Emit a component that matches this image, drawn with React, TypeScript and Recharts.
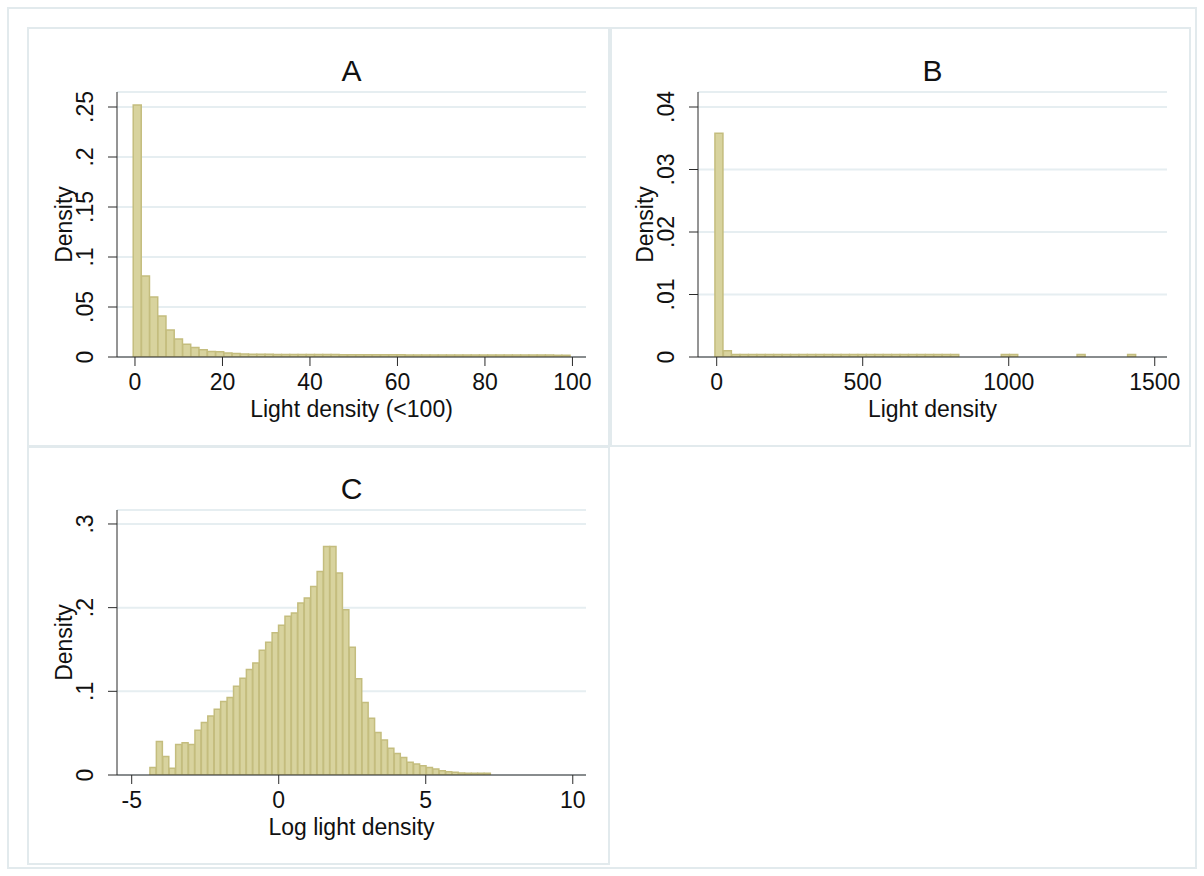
import { ComposedChart, Bar, XAxis, YAxis, CartesianGrid } from 'recharts'

// Panel A - light density (<100): bin start / width and densities
const aStart = -0.4
const aWidth = 1.885
const aDensity = [
  0.252, 0.081, 0.06, 0.041, 0.027, 0.018, 0.0127, 0.0095, 0.0072, 0.0055,
  0.0052, 0.0039, 0.0036, 0.0029, 0.0028, 0.0027, 0.0027, 0.0026, 0.0026, 0.0025,
  0.0025, 0.0025, 0.0024, 0.0024, 0.0024, 0.0023, 0.0023, 0.0023, 0.0023, 0.0022,
  0.0022, 0.0022, 0.0022, 0.0021, 0.0021, 0.0021, 0.0021, 0.0021, 0.002, 0.002,
  0.002, 0.002, 0.002, 0.002, 0.002, 0.0019, 0.0019, 0.0019, 0.0019, 0.0019,
  0.0019, 0.0018, 0.0018,
]
const aXTicks = [0, 20, 40, 60, 80, 100]
const aYTicks = [0, 0.05, 0.1, 0.15, 0.2, 0.25]

// Panel B - light density (all)
const bStart = -6
const bWidth = 28.84
const bDensity = [
  0.0358, 0.001, 0.0004, 0.0004, 0.0004, 0.0004, 0.0004, 0.0004, 0.0004, 0.0004,
  0.0004, 0.0004, 0.0004, 0.0004, 0.0004, 0.0004, 0.0004, 0.0004, 0.0004, 0.0004,
  0.0004, 0.0004, 0.0004, 0.0004, 0.0004, 0.0004, 0.0004, 0.0004, 0.0004, 0,
  0, 0, 0, 0, 0.0004, 0.0004, 0, 0, 0, 0,
  0, 0, 0, 0.0004, 0, 0, 0, 0, 0, 0.0004,
]
const bXTicks = [0, 500, 1000, 1500]
const bYTicks = [0, 0.01, 0.02, 0.03, 0.04]

// Panel C - log light density
const cStart = -4.38
const cWidth = 0.2187
const cDensity = [
  0.009, 0.04, 0.022, 0.008, 0.0365, 0.0385, 0.0365, 0.0536, 0.0627, 0.0706,
  0.0786, 0.0877, 0.0925, 0.106, 0.1155, 0.126, 0.134, 0.149, 0.1587, 0.17,
  0.179, 0.1897, 0.1937, 0.2056, 0.2115, 0.2254, 0.2433, 0.273, 0.273, 0.2413,
  0.1976, 0.1528, 0.115, 0.0865, 0.0679, 0.0508, 0.0417, 0.0321, 0.0258, 0.021,
  0.0151, 0.0131, 0.0111, 0.0091, 0.0071, 0.0052, 0.004, 0.0032, 0.0024, 0.0022,
  0.0021, 0.002, 0.002,
]
const cXTicks = [-5, 0, 5, 10]
const cYTicks = [0, 0.1, 0.2, 0.3]

const FONT = '"Liberation Sans", Arial, sans-serif'
const INK = '#111'
const AXIS = '#2a2a2a'
const GRID = '#e6eef1'
const FRAME = '#e2eaed'
const FILL = '#d8d39e'
const EDGE = '#c4bd7e'

const W = 581
const H = 418
const MARGIN = { top: 64, right: 23, bottom: 19, left: 19 }
const YW = 70
const XH = 70

function bins(start: number, width: number, dens: number[]) {
  return dens.map((d, i) => ({ x: start + width * (i + 0.5), d }))
}

const fmtY = (v: number) => (v === 0 ? '0' : String(v).replace(/^0/, ''))

function YTick({ x, y, payload }: any) {
  const bx = x - 13
  return (
    <text x={bx} y={y} transform={`rotate(-90 ${bx} ${y})`} textAnchor="middle"
      fontSize={23} fontFamily={FONT} fill={INK}>
      {fmtY(payload.value)}
    </text>
  )
}

function YTitle({ viewBox, text }: any) {
  const bx = viewBox.x + viewBox.width - 45
  const cy = viewBox.y + viewBox.height / 2
  return (
    <text x={bx} y={cy} transform={`rotate(-90 ${bx} ${cy})`} textAnchor="middle"
      fontSize={23} fontFamily={FONT} fill={INK}>
      {text}
    </text>
  )
}

function XTitle({ viewBox, text }: any) {
  return (
    <text x={viewBox.x + viewBox.width / 2} y={viewBox.y + 60} textAnchor="middle"
      fontSize={23} fontFamily={FONT} fill={INK}>
      {text}
    </text>
  )
}

interface PanelProps {
  left: number
  top: number
  data: { x: number; d: number }[]
  xDomain: [number, number]
  xTicks: number[]
  yMax: number
  yTicks: number[]
  xTitle: string
}

function Panel({ left, top, data, xDomain, xTicks, yMax, yTicks, xTitle }: PanelProps) {
  return (
    <div style={{ position: 'absolute', left, top }}>
      <ComposedChart width={W} height={H} data={data} margin={MARGIN} barCategoryGap={0} barGap={0}>
        <CartesianGrid vertical={false} stroke={GRID} strokeWidth={2} />
        <XAxis type="number" dataKey="x" domain={xDomain} ticks={xTicks} allowDataOverflow interval={0}
          height={XH} tickSize={9} tickMargin={8} stroke={AXIS}
          tick={{ fontSize: 23, fontFamily: FONT, fill: INK }}
          label={<XTitle text={xTitle} />} />
        <YAxis type="number" domain={[0, yMax]} ticks={yTicks} allowDataOverflow interval={0}
          width={YW} tickSize={9} stroke={AXIS} tick={<YTick />}
          label={<YTitle text="Density" />} />
        <Bar dataKey="d" fill={FILL} stroke={EDGE} strokeWidth={1.5} isAnimationActive={false} />
      </ComposedChart>
    </div>
  )
}

const plotCx = (left: number) => left + MARGIN.left + YW + (W - MARGIN.left - YW - MARGIN.right) / 2

export default function App() {
  const panels = [
    { key: 'A', left: 28, top: 28 },
    { key: 'B', left: 609, top: 28 },
    { key: 'C', left: 28, top: 446 },
  ]
  return (
    <div style={{ position: 'absolute', left: 0, top: 0, width: 1204, height: 876, background: '#fff' }}>
      <svg width={1204} height={876} style={{ position: 'absolute', left: 0, top: 0 }}>
        <rect x={8} y={8} width={1188} height={860} fill="none" stroke={FRAME} strokeWidth={2} />
        <rect x={28} y={28} width={581} height={418} fill="none" stroke={FRAME} strokeWidth={2} />
        <rect x={611} y={28} width={579} height={418} fill="none" stroke={FRAME} strokeWidth={2} />
        <rect x={28} y={447} width={581} height={417} fill="none" stroke={FRAME} strokeWidth={2} />
        {panels.map((p) => (
          <text key={p.key} x={plotCx(p.left)} y={p.top + MARGIN.top - 11} textAnchor="middle"
            fontSize={30} fontFamily={FONT} fill={INK}>
            {p.key}
          </text>
        ))}
      </svg>
      <Panel left={28} top={28} data={bins(aStart, aWidth, aDensity)} xDomain={[-4.11, 103.1]}
        xTicks={aXTicks} yMax={0.265} yTicks={aYTicks} xTitle="Light density (<100)" />
      <Panel left={609} top={28} data={bins(bStart, bWidth, bDensity)} xDomain={[-64, 1542]}
        xTicks={bXTicks} yMax={0.0424} yTicks={bYTicks} xTitle="Light density" />
      <Panel left={28} top={446} data={bins(cStart, cWidth, cDensity)} xDomain={[-5.5, 10.45]}
        xTicks={cXTicks} yMax={0.3167} yTicks={cYTicks} xTitle="Log light density" />
    </div>
  )
}
